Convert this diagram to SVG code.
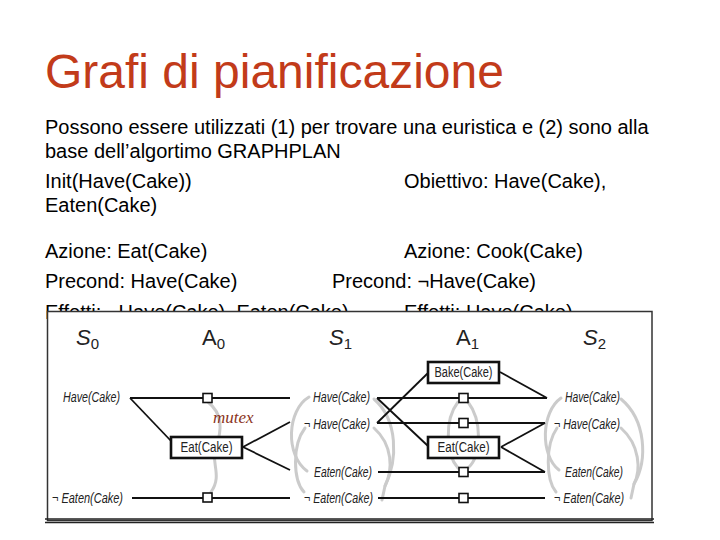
<svg xmlns="http://www.w3.org/2000/svg" width="720" height="540" viewBox="0 0 720 540">
<style>
.t{font-family:"Liberation Sans",Arial,sans-serif;font-size:20px;fill:#000}
.title{font-family:"Liberation Sans",Arial,sans-serif;font-size:48px;fill:#c23b1a}
.lab{font-family:"Liberation Sans",Arial,sans-serif;font-size:14px;font-style:italic;fill:#222}
.act{font-family:"Liberation Sans",Arial,sans-serif;font-size:14px;fill:#222}
.hdr{font-family:"Liberation Sans",Arial,sans-serif;font-size:22px;fill:#222}
.sub{font-size:15px;font-style:normal}
.ln{stroke:#111;stroke-width:1.8;fill:none}
.sq{fill:#fff;stroke:#111;stroke-width:1.6}
.box{fill:#fff;stroke:#111;stroke-width:2.6}
.mx{stroke:#cbcbcb;stroke-width:3;fill:none;stroke-linecap:round}
.mutex{font-family:"Liberation Serif","Times New Roman",serif;font-style:italic;font-size:17px;fill:#8b3322}
</style>
<rect width="720" height="540" fill="#fff"/>
<text class="title" x="45" y="88">Grafi di pianificazione</text>
<text class="t" x="45" y="134">Possono essere utilizzati (1) per trovare una euristica e (2) sono alla</text>
<text class="t" x="45" y="158">base dell’algortimo GRAPHPLAN</text>
<text class="t" x="45" y="188">Init(Have(Cake))</text>
<text class="t" x="404" y="188">Obiettivo: Have(Cake),</text>
<text class="t" x="45" y="212">Eaten(Cake)</text>
<text class="t" x="45" y="258">Azione: Eat(Cake)</text>
<text class="t" x="404" y="258">Azione: Cook(Cake)</text>
<text class="t" x="45" y="288">Precond: Have(Cake)</text>
<text class="t" x="332" y="288">Precond: ¬Have(Cake)</text>
<text class="t" x="45" y="318.5">Effetti: ¬Have(Cake), Eaten(Cake)</text>
<text class="t" x="404" y="318.5">Effetti: Have(Cake)</text>

<g id="frame">
<rect x="47.5" y="311.5" width="604.5" height="209" fill="#fff" stroke="#333" stroke-width="1.5"/>
<line x1="45" y1="519" x2="654" y2="519" stroke="#222" stroke-width="1.5"/>
<line x1="45" y1="522.5" x2="654" y2="522.5" stroke="#222" stroke-width="1.5"/>
</g>

<g id="headers">
<text class="hdr" x="76" y="345"><tspan font-style="italic">S</tspan><tspan class="sub" dy="4">0</tspan></text>
<text class="hdr" x="202" y="345">A<tspan class="sub" dy="4">0</tspan></text>
<text class="hdr" x="329" y="345"><tspan font-style="italic">S</tspan><tspan class="sub" dy="4">1</tspan></text>
<text class="hdr" x="456" y="345">A<tspan class="sub" dy="4">1</tspan></text>
<text class="hdr" x="583" y="345"><tspan font-style="italic">S</tspan><tspan class="sub" dy="4">2</tspan></text>
</g>

<g id="mutexes">
<path class="mx" d="M208,402 C223,414 222,430 216,447 C210,462 223,475 211,492"/>
<path class="mx" d="M309,397 C287,410 285,455 307,471"/>
<path class="mx" d="M305,428 C292,445 293,480 304,492"/>
<path class="mx" d="M374,399 C398,420 398,460 385,486"/>
<path class="mx" d="M374,428 C393,445 393,470 385,486 L382,500"/>
<path class="mx" d="M458,402 C444,420 446,455 458,468"/>
<path class="mx" d="M468,402 C482,420 482,455 468,468"/>
<path class="mx" d="M561,398 C541,412 540,455 559,470"/>
<path class="mx" d="M557,428 C545,445 546,480 556,492"/>
<path class="mx" d="M621,399 C646,420 648,460 634,484"/>
<path class="mx" d="M621,428 C640,445 641,470 634,484 L631,498"/>
</g>
<text class="mutex" x="213" y="423">mutex</text>

<g id="connectors">
<line class="ln" x1="130" y1="398" x2="290" y2="398"/>
<line class="ln" x1="130" y1="398" x2="172" y2="442"/>
<line class="ln" x1="132" y1="498" x2="290" y2="498"/>
<line class="ln" x1="243" y1="447" x2="290" y2="422"/>
<line class="ln" x1="243" y1="447" x2="290" y2="470"/>
<line class="ln" x1="377" y1="398" x2="547" y2="398"/>
<line class="ln" x1="377" y1="423" x2="545" y2="423"/>
<line class="ln" x1="378" y1="472" x2="545" y2="472"/>
<line class="ln" x1="378" y1="498" x2="545" y2="498"/>
<line class="ln" x1="377" y1="398" x2="428" y2="446"/>
<line class="ln" x1="377" y1="423" x2="428" y2="373"/>
<line class="ln" x1="500" y1="372" x2="547" y2="398"/>
<line class="ln" x1="501" y1="447" x2="545" y2="423"/>
<line class="ln" x1="501" y1="447" x2="545" y2="472"/>
</g>

<g id="persist">
<rect class="sq" x="203" y="393.5" width="9" height="9"/>
<rect class="sq" x="203" y="493" width="9" height="9"/>
<rect class="sq" x="459" y="393.5" width="9" height="9"/>
<rect class="sq" x="459" y="418.5" width="9" height="9"/>
<rect class="sq" x="459" y="467.5" width="9" height="9"/>
<rect class="sq" x="459" y="493.5" width="9" height="9"/>
</g>

<g id="s0">
<text class="lab" x="63" y="402" textLength="57" lengthAdjust="spacingAndGlyphs">Have(Cake)</text>
<text class="lab" x="52" y="503" textLength="71" lengthAdjust="spacingAndGlyphs">¬ Eaten(Cake)</text>
</g>
<g id="a0-eat">
<rect class="box" x="171" y="437" width="71" height="21"/>
<text class="act" x="206.5" y="452" text-anchor="middle" textLength="52" lengthAdjust="spacingAndGlyphs">Eat(Cake)</text>
</g>
<g id="s1">
<text class="lab" x="313" y="402" textLength="57" lengthAdjust="spacingAndGlyphs">Have(Cake)</text>
<text class="lab" x="304" y="429" textLength="66" lengthAdjust="spacingAndGlyphs">¬ Have(Cake)</text>
<text class="lab" x="314" y="477" textLength="58" lengthAdjust="spacingAndGlyphs">Eaten(Cake)</text>
<text class="lab" x="304" y="503" textLength="69" lengthAdjust="spacingAndGlyphs">¬ Eaten(Cake)</text>
</g>
<g id="a1-bake">
<rect class="box" x="428" y="362" width="71" height="21"/>
<text class="act" x="463.5" y="377" text-anchor="middle" textLength="58" lengthAdjust="spacingAndGlyphs">Bake(Cake)</text>
</g>
<g id="a1-eat">
<rect class="box" x="428" y="437" width="71" height="21"/>
<text class="act" x="463.5" y="452" text-anchor="middle" textLength="52" lengthAdjust="spacingAndGlyphs">Eat(Cake)</text>
</g>
<g id="s2">
<text class="lab" x="565" y="402" textLength="55" lengthAdjust="spacingAndGlyphs">Have(Cake)</text>
<text class="lab" x="554" y="429" textLength="66" lengthAdjust="spacingAndGlyphs">¬ Have(Cake)</text>
<text class="lab" x="565" y="477" textLength="58" lengthAdjust="spacingAndGlyphs">Eaten(Cake)</text>
<text class="lab" x="554" y="503" textLength="70" lengthAdjust="spacingAndGlyphs">¬ Eaten(Cake)</text>
</g>
</svg>
